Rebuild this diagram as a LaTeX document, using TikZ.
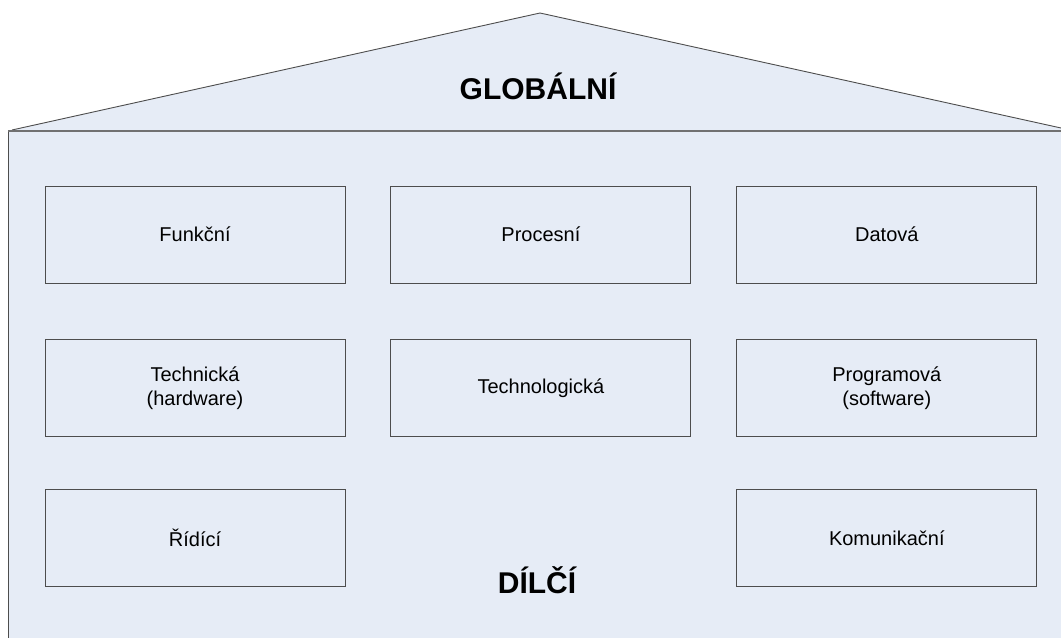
\documentclass[tikz,border=0pt]{standalone}
\usepackage{fontspec}
\setmainfont{Liberation Sans}
\usepackage{xcolor}
\usepackage{tikz}
\usetikzlibrary{positioning}

\definecolor{stena}{RGB}{230,236,246}
\definecolor{obrys}{RGB}{77,77,77}

\begin{document}
\begin{tikzpicture}[
    x=1bp, y=-1bp,
    vrstva/.style={draw=obrys, line width=0.9bp, fill=stena, minimum width=300bp,
        minimum height=97bp, align=center, inner sep=0pt,
        font=\fontsize{20bp}{24bp}\selectfont},
    nadpis/.style={anchor=base, font=\fontsize{30bp}{36bp}\selectfont\bfseries}
]
\useasboundingbox (0,0) rectangle (1061,638);

% dum
\fill[stena] (8,640) -- (8,131) -- (12,130) -- (540,13) -- (1061,128) -- (1061,640) -- cycle;
\draw[obrys, line width=0.9bp] (12,130) -- (540,13) -- (1061,128);
\draw[obrys, line width=0.9bp] (8,640) -- (8,131);
\draw[obrys!80, line width=2bp] (8,131) -- (1062,131);

% nadpisy
\node[nadpis] (globalni) at (538,100) {GLOBÁLNÍ};
\node[nadpis] (dilci) at (537,593) {DÍLČÍ};

% vrstvy
\node[vrstva] (funkcni) at (195,234.5) {Funkční};
\node[vrstva, right=45bp of funkcni] (procesni) {Procesní};
\node[vrstva, right=45bp of procesni] (datova) {Datová};

\node[vrstva, below=56bp of funkcni] (technicka) {Technická\\(hardware)};
\node[vrstva, right=45bp of technicka] (technologicka) {Technologická};
\node[vrstva, right=45bp of technologicka] (programova) {Programová\\(software)};

\node[vrstva, below=52bp of technicka] (ridici) {Řídící};
\node[vrstva, below=52bp of programova] (komunikacni) {Komunikační};

\end{tikzpicture}
\end{document}
